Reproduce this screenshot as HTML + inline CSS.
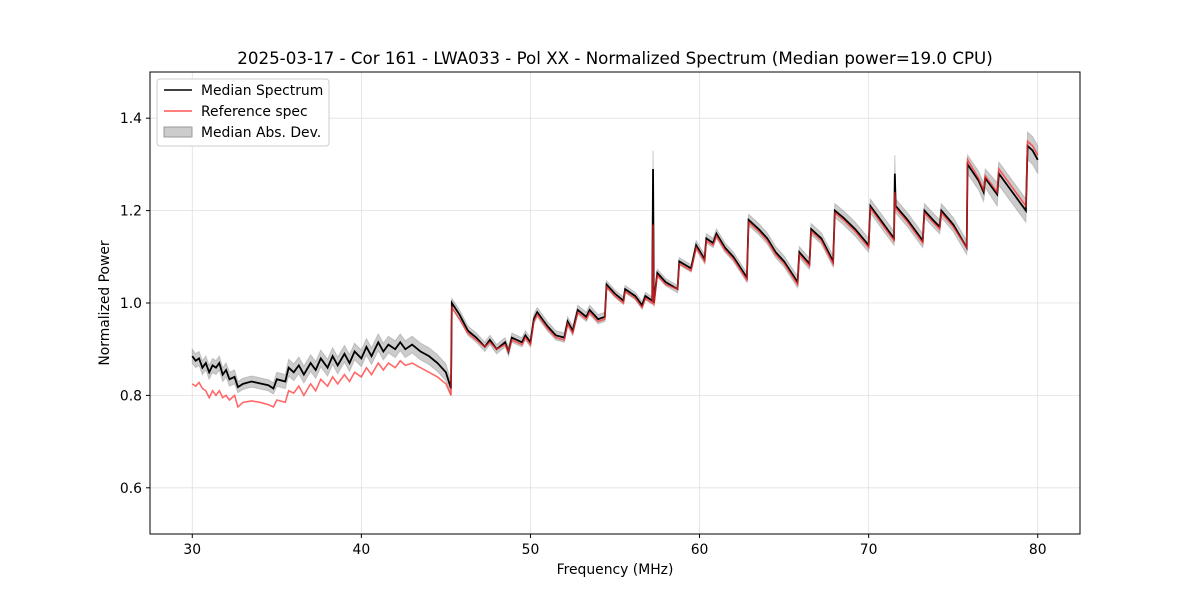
<!DOCTYPE html>
<html><head><meta charset="utf-8"><style>
body{margin:0;background:#fff;font-family:"DejaVu Sans",sans-serif}
svg text{font-family:"DejaVu Sans",sans-serif;fill:#000}
</style></head><body>
<svg id="chart" width="1200" height="600" xmlns="http://www.w3.org/2000/svg">
<rect width="1200" height="600" fill="#fff"/>
<text x="615" y="64" font-size="16.7" text-anchor="middle">2025-03-17 - Cor 161 - LWA033 - Pol XX - Normalized Spectrum (Median power=19.0 CPU)</text>
<g id="grid"></g><g id="band"></g><g id="lines"></g>
<rect x="150" y="72" width="930" height="462" fill="none" stroke="#000" stroke-width="1"/>
<g id="axes"></g>
<text x="615" y="574" font-size="13.9" text-anchor="middle">Frequency (MHz)</text>
<text transform="translate(109,303) rotate(-90)" font-size="13.9" text-anchor="middle">Normalized Power</text>
<g>
<rect x="157" y="79" width="172" height="67" rx="3" fill="#fff" stroke="#ccc"/>
<line x1="164" y1="90" x2="192" y2="90" stroke="#000" stroke-width="1.5"/>
<text x="201" y="95" font-size="13.9">Median Spectrum</text>
<line x1="164" y1="111" x2="192" y2="111" stroke="#ff5555" stroke-width="1.5"/>
<text x="201" y="116" font-size="13.9">Reference spec</text>
<rect x="164" y="127" width="28" height="10" fill="#bbb" fill-opacity="0.75" stroke="#999"/>
<text x="201" y="137" font-size="13.9">Median Abs. Dev.</text>
</g>
</svg>
<script>
const freq=[30.0,30.2,30.4,30.6,30.8,31.0,31.2,31.4,31.6,31.8,32.0,32.2,32.5,32.7,33.0,33.5,34.0,34.5,34.8,35.0,35.5,35.7,36.0,36.3,36.6,37.0,37.3,37.6,38.0,38.3,38.6,39.0,39.3,39.6,40.0,40.3,40.6,41.0,41.3,41.6,42.0,42.3,42.6,43.0,43.5,44.0,44.5,45.0,45.3,45.35,45.8,46.3,46.8,47.3,47.6,48.0,48.5,48.7,48.9,49.5,49.7,50.0,50.2,50.4,51.0,51.5,52.0,52.2,52.5,52.8,53.3,53.5,54.0,54.4,54.5,55.0,55.5,55.6,56.2,56.6,56.8,57.2,57.25,57.3,57.5,58.0,58.7,58.8,59.5,59.8,60.3,60.4,60.8,61.0,61.5,62.0,62.8,62.9,63.5,64.0,64.5,65.0,65.8,65.9,66.5,66.6,67.2,67.9,68.0,68.5,69.2,70.0,70.1,70.7,71.5,71.55,71.6,72.3,73.2,73.3,73.8,74.2,74.3,75.0,75.8,75.85,76.5,76.8,76.9,77.6,77.7,78.5,79.3,79.4,79.7,80.0];
const median=[.885,.875,.88,.86,.87,.85,.865,.86,.87,.845,.855,.835,.84,.818,.825,.83,.826,.822,.815,.835,.83,.86,.85,.865,.845,.87,.855,.88,.86,.885,.865,.89,.87,.895,.88,.905,.885,.915,.895,.91,.90,.915,.90,.91,.895,.885,.87,.85,.815,1.0,.975,.94,.925,.905,.92,.90,.915,.895,.925,.915,.93,.915,.965,.98,.95,.93,.925,.96,.94,.985,.97,.985,.965,.97,1.04,1.02,1.005,1.03,1.015,.995,1.015,1.005,1.29,1.0,1.065,1.045,1.03,1.09,1.075,1.125,1.095,1.14,1.13,1.15,1.12,1.10,1.055,1.18,1.16,1.14,1.11,1.09,1.045,1.11,1.085,1.16,1.14,1.09,1.20,1.185,1.16,1.125,1.21,1.18,1.14,1.28,1.21,1.18,1.135,1.20,1.18,1.165,1.20,1.17,1.12,1.30,1.265,1.24,1.27,1.235,1.28,1.24,1.20,1.34,1.33,1.31];
const reference=[.825,.82,.828,.815,.81,.795,.81,.80,.81,.795,.80,.79,.80,.775,.785,.788,.785,.78,.775,.79,.785,.81,.805,.82,.80,.825,.81,.835,.82,.84,.825,.845,.83,.85,.84,.86,.845,.87,.855,.87,.86,.875,.865,.87,.86,.85,.84,.825,.80,.99,.965,.935,.92,.905,.915,.90,.91,.895,.92,.91,.925,.91,.96,.975,.945,.925,.92,.955,.935,.98,.965,.98,.96,.965,1.035,1.015,1.0,1.025,1.01,.99,1.01,1.0,1.17,.995,1.06,1.04,1.03,1.085,1.07,1.12,1.09,1.135,1.125,1.145,1.115,1.095,1.05,1.175,1.155,1.135,1.105,1.085,1.04,1.105,1.08,1.155,1.135,1.085,1.195,1.18,1.155,1.12,1.205,1.175,1.135,1.24,1.205,1.175,1.13,1.195,1.175,1.16,1.195,1.165,1.12,1.31,1.27,1.245,1.275,1.24,1.29,1.25,1.21,1.35,1.34,1.32];
const mad=[.015,.015,.015,.015,.015,.015,.015,.015,.015,.015,.015,.015,.015,.012,.012,.012,.012,.012,.012,.015,.015,.018,.018,.018,.018,.018,.018,.018,.018,.018,.018,.018,.018,.018,.018,.018,.018,.018,.018,.018,.018,.018,.018,.018,.018,.018,.018,.018,.015,.01,.01,.01,.01,.01,.01,.01,.01,.01,.01,.01,.01,.01,.01,.01,.01,.01,.01,.01,.01,.01,.01,.01,.01,.01,.008,.008,.008,.008,.008,.008,.008,.008,.04,.008,.008,.008,.008,.008,.008,.01,.01,.01,.01,.01,.01,.01,.01,.012,.012,.012,.012,.012,.012,.012,.012,.012,.012,.012,.015,.015,.015,.015,.015,.015,.015,.04,.015,.015,.015,.015,.015,.015,.015,.015,.015,.02,.02,.02,.02,.025,.025,.025,.025,.03,.03,.03];
const xTicks=[30,40,50,60,70,80];
const yTicks=[0.6,0.8,1.0,1.2,1.4];
const yTickLabels=["0.6","0.8","1.0","1.2","1.4"];
const X0=150,X1=1080,Y0=534,Y1=72,xMin=27.5,xMax=82.5,yMin=0.5,yMax=1.5;
const sx=v=>X0+(v-xMin)/(xMax-xMin)*(X1-X0);
const sy=v=>Y0-(v-yMin)/(yMax-yMin)*(Y0-Y1);
const NS="http://www.w3.org/2000/svg";
function mk(tag,attrs,parent){const e=document.createElementNS(NS,tag);for(const k in attrs)e.setAttribute(k,attrs[k]);parent.appendChild(e);return e;}
const grid=document.getElementById('grid'),axes=document.getElementById('axes');
xTicks.forEach(t=>{const x=sx(t);
 const g=mk('line',{x1:x,x2:x,y1:Y1,y2:Y0,stroke:'#e0e0e0','stroke-width':0.8},grid);
 
 
 mk('line',{x1:x,x2:x,y1:Y0,y2:Y0+4,stroke:'#000'},axes);
 const tx=mk('text',{x:x,y:Y0+20,'font-size':13.9,'text-anchor':'middle'},axes);tx.textContent=t;
 
 });
yTicks.forEach((t,i)=>{const y=sy(t);
 const g=mk('line',{x1:X0,x2:X1,y1:y,y2:y,stroke:'#e0e0e0','stroke-width':0.8},grid);
 
 
 mk('line',{x1:X0-4,x2:X0,y1:y,y2:y,stroke:'#000'},axes);
 const tx=mk('text',{x:X0-8,y:y+5,'font-size':13.9,'text-anchor':'end'},axes);tx.textContent=yTickLabels[i];
 
 });
let up=freq.map((f,i)=>sx(f)+','+sy(median[i]+mad[i]));
let dn=freq.map((f,i)=>sx(f)+','+sy(median[i]-mad[i])).reverse();
const band=mk('polygon',{points:up.concat(dn).join(' '),fill:'#999','fill-opacity':0.5,stroke:'#999','stroke-opacity':0.5},document.getElementById('band'));


const lines=document.getElementById('lines');
const ml=mk('polyline',{points:freq.map((f,i)=>sx(f)+','+sy(median[i])).join(' '),fill:'none',stroke:'#000','stroke-width':1.8},lines);


const rl=mk('polyline',{points:freq.map((f,i)=>sx(f)+','+sy(reference[i])).join(' '),fill:'none',stroke:'#ff2a2a','stroke-opacity':0.7,'stroke-width':1.6},lines);


</script>
</body></html>
